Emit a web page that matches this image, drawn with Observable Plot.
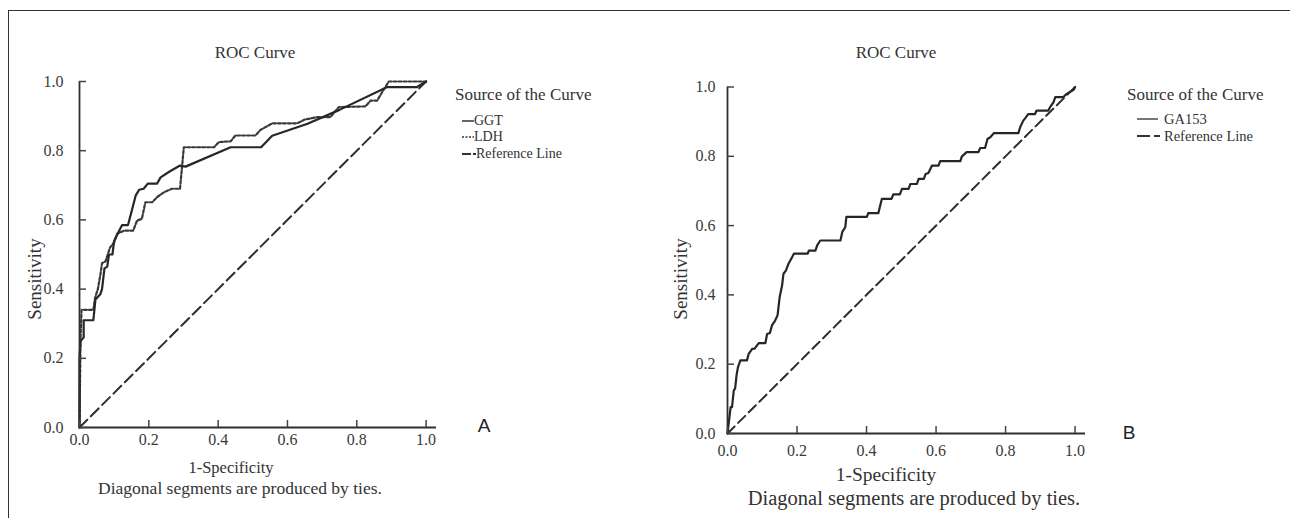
<!DOCTYPE html>
<html><head><meta charset="utf-8">
<script src="https://cdn.jsdelivr.net/npm/d3@7"></script>
<script src="https://cdn.jsdelivr.net/npm/@observablehq/plot@0.6"></script>
<style>
body{margin:0;background:#fff;}
#page{position:relative;width:1290px;height:518px;overflow:hidden;font-family:"Liberation Serif",serif;color:#333;background:#fff;}
.frame{position:absolute;left:8px;top:10px;width:1400px;height:700px;border-left:1.6px solid #333;border-top:1.6px solid #333;}
.t{position:absolute;white-space:nowrap;line-height:1;}
.t.leg{line-height:0.85;}
.panel{position:absolute;top:0;overflow:visible;}
</style></head><body><div id="page"><div class="frame"></div></div>
<script>
// ---- data ----
const tickValues = [0, 0.2, 0.4, 0.6, 0.8, 1.0];
const refFpr = [0, 1];
const refTpr = [0, 1];

const ggtFpr = [0,0,0.003,0.012,0.012,0.04,0.046,0.06,0.065,0.072,0.08,0.085,0.095,0.1,0.11,0.123,0.14,0.162,0.172,0.185,0.197,0.224,0.234,0.26,0.29,0.306,0.436,0.524,0.556,0.658,0.75,0.888,0.974,1];
const ggtTpr = [0,0.2,0.25,0.26,0.31,0.31,0.37,0.385,0.40,0.46,0.465,0.50,0.50,0.54,0.56,0.585,0.585,0.67,0.687,0.69,0.705,0.705,0.723,0.74,0.757,0.754,0.81,0.81,0.843,0.878,0.918,0.984,0.984,1];

const ldhFpr = [0,0.003,0.006,0.04,0.045,0.053,0.06,0.065,0.075,0.088,0.1,0.109,0.128,0.155,0.166,0.18,0.19,0.21,0.224,0.244,0.267,0.29,0.301,0.388,0.402,0.436,0.45,0.508,0.522,0.556,0.628,0.65,0.686,0.724,0.748,0.825,0.84,0.859,0.873,0.888,0.892,1];
const ldhTpr = [0,0.26,0.34,0.34,0.375,0.40,0.44,0.475,0.48,0.52,0.535,0.56,0.569,0.569,0.598,0.603,0.651,0.651,0.666,0.68,0.69,0.69,0.81,0.81,0.825,0.827,0.844,0.844,0.86,0.879,0.879,0.89,0.897,0.897,0.926,0.928,0.945,0.945,0.969,0.993,1,1];

const ga153Fpr = [0,0.009,0.013,0.018,0.022,0.026,0.03,0.037,0.056,0.061,0.071,0.078,0.09,0.109,0.114,0.122,0.128,0.137,0.144,0.15,0.157,0.161,0.168,0.175,0.186,0.191,0.231,0.234,0.253,0.258,0.267,0.325,0.33,0.339,0.342,0.401,0.405,0.434,0.444,0.472,0.477,0.496,0.502,0.521,0.526,0.545,0.55,0.565,0.57,0.578,0.588,0.607,0.612,0.67,0.674,0.688,0.722,0.727,0.741,0.748,0.756,0.767,0.837,0.842,0.851,0.859,0.865,0.885,0.889,0.923,0.93,0.938,0.943,0.966,0.976,0.996,1];
const ga153Tpr = [0,0.076,0.076,0.124,0.13,0.168,0.191,0.211,0.211,0.23,0.244,0.245,0.261,0.261,0.287,0.29,0.312,0.326,0.341,0.393,0.427,0.461,0.47,0.489,0.509,0.519,0.519,0.528,0.528,0.543,0.557,0.557,0.581,0.596,0.625,0.625,0.636,0.636,0.677,0.677,0.69,0.69,0.706,0.706,0.72,0.72,0.735,0.735,0.749,0.752,0.773,0.773,0.786,0.786,0.799,0.812,0.812,0.824,0.824,0.85,0.855,0.867,0.867,0.884,0.903,0.913,0.922,0.922,0.932,0.932,0.945,0.956,0.971,0.971,0.98,0.992,1];

const toRows = (xs, ys) => xs.map((x, i) => ({x, y: ys[i]}));
const ref = toRows(refFpr, refTpr);
const ggt = toRows(ggtFpr, ggtTpr);
const ldh = toRows(ldhFpr, ldhTpr);
const ga153 = toRows(ga153Fpr, ga153Tpr);

const SERIF = '"Liberation Serif", "DejaVu Serif", serif';
const SANS = '"Liberation Sans", Arial, sans-serif';
const page = document.getElementById("page");

function axes(xPad, yPad) {
  const fmt = d3.format(".1f");
  return [
    Plot.ruleX([0], {stroke: "#2e2e2e", strokeWidth: 1.8}),
    Plot.ruleY([0], {stroke: "#2e2e2e", strokeWidth: 1.8}),
    Plot.axisX(tickValues, {tickSize: -7, fill: "none", label: null, stroke: "#444", strokeWidth: 1.5}),
    Plot.axisY(tickValues, {tickSize: -7, fill: "none", label: null, stroke: "#444", strokeWidth: 1.5}),
    Plot.axisX(tickValues, {tickSize: 0, tickPadding: xPad, tickFormat: fmt, label: null, fill: "#3a3a3a"}),
    Plot.axisY(tickValues, {tickSize: 0, tickPadding: yPad, tickFormat: fmt, label: null, fill: "#3a3a3a"})
  ];
}

const baseStyle = {fontFamily: SERIF, fontSize: "16px", background: "transparent", overflow: "visible"};

const left = Plot.plot({
  width: 640, height: 518,
  marginLeft: 79, marginRight: 204, marginTop: 81, marginBottom: 91,
  x: {domain: [0, 1.03]}, y: {domain: [0, 1]},
  style: baseStyle,
  marks: [
    Plot.line(ref, {x: "x", y: "y", stroke: "#2e2e2e", strokeWidth: 2, strokeDasharray: "11,5"}),
    Plot.line(ldh, {x: "x", y: "y", stroke: "#3a3a3a", strokeWidth: 2.2, strokeDasharray: "3,2"}),
    Plot.line(ggt, {x: "x", y: "y", stroke: "#262626", strokeWidth: 2.2}),
    ...axes(6, 16)
  ]
});
left.classList.add("panel");
left.style.left = "0px";
page.appendChild(left);

const right = Plot.plot({
  width: 650, height: 518,
  marginLeft: 87, marginRight: 205, marginTop: 86.5, marginBottom: 85,
  x: {domain: [0, 1.03]}, y: {domain: [0, 1]},
  style: baseStyle,
  marks: [
    Plot.line(ref, {x: "x", y: "y", stroke: "#2e2e2e", strokeWidth: 2, strokeDasharray: "10,5"}),
    Plot.line(ga153, {x: "x", y: "y", stroke: "#262626", strokeWidth: 2.2}),
    ...axes(11, 12)
  ]
});
right.classList.add("panel");
right.style.left = "640px";
page.appendChild(right);

function addText(str, cx, cy, size, opts = {}) {
  const {rotate = 0, anchor = "middle", family = SERIF, color = "#333", cls = ""} = opts;
  const d = document.createElement("div");
  d.className = "t " + cls;
  d.textContent = str;
  d.style.left = cx + "px";
  d.style.top = cy + "px";
  d.style.fontSize = size + "px";
  d.style.fontFamily = family;
  d.style.color = color;
  const tx = anchor === "middle" ? "-50%" : "0";
  d.style.transform = `translate(${tx},-50%)` + (rotate ? ` rotate(${rotate}deg)` : "");
  page.appendChild(d);
}

function addSample(x, y, w, dash, color, sw) {
  const ns = "http://www.w3.org/2000/svg";
  const s = document.createElementNS(ns, "svg");
  s.setAttribute("width", w); s.setAttribute("height", 6);
  s.style.position = "absolute"; s.style.left = x + "px"; s.style.top = (y - 3) + "px";
  const l = document.createElementNS(ns, "line");
  l.setAttribute("x1", 0); l.setAttribute("x2", w); l.setAttribute("y1", 3); l.setAttribute("y2", 3);
  l.setAttribute("stroke", color); l.setAttribute("stroke-width", sw);
  if (dash) l.setAttribute("stroke-dasharray", dash);
  s.appendChild(l);
  page.appendChild(s);
}

// Left panel texts
addText("ROC Curve", 255, 52, 17);
addText("Sensitivity", 34, 279, 19, {rotate: -90});
addText("1-Specificity", 231, 468, 16.5);
addText("Diagonal segments are produced by ties.", 240, 489, 17.5);
addText("A", 484, 425, 19, {family: SANS, color: "#222"});
addText("Source of the Curve", 455, 94, 17, {anchor: "start"});
addSample(462, 120.5, 12, null, "#666", 2);
addText("GGT", 474, 120.5, 14, {anchor: "start", cls: "leg"});
addSample(462, 137, 12, "2,1.5", "#666", 2);
addText("LDH", 474, 137, 14, {anchor: "start", cls: "leg"});
addSample(462, 153.5, 14, "9,2,3", "#333", 2);
addText("Reference Line", 476, 153.5, 14, {anchor: "start", cls: "leg"});

// Right panel texts
addText("ROC Curve", 896, 52, 17);
addText("Sensitivity", 680, 279, 19, {rotate: -90});
addText("1-Specificity", 886, 475, 19.5);
addText("Diagonal segments are produced by ties.", 914, 498, 20.5);
addText("B", 1129, 432, 19, {family: SANS, color: "#222"});
addText("Source of the Curve", 1127, 94, 17, {anchor: "start"});
addSample(1137, 119, 21, null, "#777", 2);
addText("GA153", 1164, 119, 14.5, {anchor: "start", cls: "leg"});
addSample(1137, 136, 23, "13,4,6", "#333", 2);
addText("Reference Line", 1164, 136, 14.5, {anchor: "start", cls: "leg"});
</script>
</body></html>
